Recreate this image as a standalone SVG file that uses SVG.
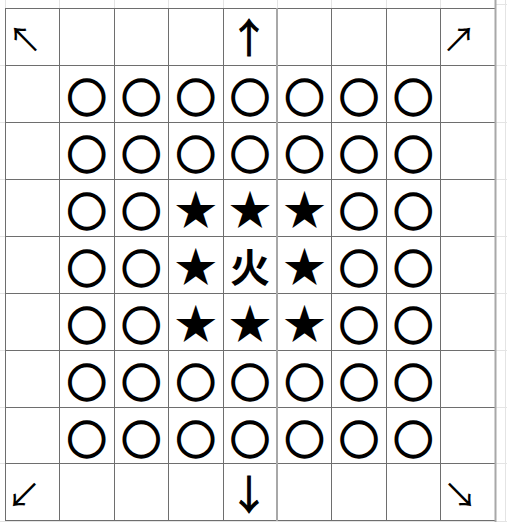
<svg xmlns="http://www.w3.org/2000/svg" width="507" height="522" viewBox="0 0 507 522">
<style>
.faint{stroke:#e4e4e4;stroke-width:1}
.g{stroke:#6e6e6e;stroke-width:1}
.gl{stroke:#a8a8a8;stroke-width:2}
.t{font-family:"Noto Sans CJK JP","Noto Sans CJK SC",sans-serif;font-size:42px;text-anchor:middle;fill:#000}
.c{font-family:"Noto Sans CJK JP","Noto Sans CJK SC",sans-serif;font-size:39px;text-anchor:middle;fill:#000;stroke:#000;stroke-width:2.4}
.v{font-family:"Noto Sans CJK JP","Noto Sans CJK SC",sans-serif;font-size:40px;text-anchor:middle;fill:#000;stroke:#000;stroke-width:1}
.f{font-family:"Noto Sans CJK JP","Noto Sans CJK SC",sans-serif;font-size:40px;font-weight:bold;text-anchor:middle;fill:#000}
.a{font-family:"Noto Sans CJK JP","Noto Sans CJK SC",sans-serif;font-size:34px;fill:#000}
</style>
<rect width="507" height="522" fill="#fff"/>
<g id="gridlines">
<g class="faint">
<path d="M5.5 0V522M59.5 0V522M114.5 0V522M168.5 0V522M223.5 0V522M277.5 0V522M331.5 0V522M386.5 0V522M440.5 0V522M505.5 0V522"/>
<path d="M495 4.5H507M0 65.5H507M0 122.5H507M0 179.5H507M0 236.5H507M0 293.5H507M0 350.5H507M0 407.5H507M0 463.5H507M0 521.5H507"/>
</g>
<g class="g">
<path d="M5.5 8V521M59.5 8V521M114.5 8V521M168.5 8V521M223.5 8V521M331.5 8V521M386.5 8V521M440.5 8V521"/>
<path d="M5 8.5H495M5 65.5H495M5 122.5H495M5 179.5H495M5 236.5H495M5 293.5H495M5 350.5H495M5 407.5H495M5 463.5H495M5 520.5H495"/>
</g>
<g class="gl">
<path d="M277 8V521M495.5 0V522"/>
</g>
</g>
<g id="arrows">
<text id="nw" class="a" x="8" y="52">↖</text>
<text id="up" class="v" x="249" y="53">↑</text>
<text id="ne" class="a" x="442" y="52">↗</text>
<text id="sw" class="a" x="7" y="508">↙</text>
<text id="down" class="v" x="249" y="509">↓</text>
<text id="se" class="a" x="443" y="508">↘</text>
</g>
<g id="circles" class="c">
<text x="86.7" y="112">○</text><text x="141.3" y="112">○</text><text x="195.7" y="112">○</text><text x="250" y="112">○</text><text x="304.5" y="112">○</text><text x="358.9" y="112">○</text><text x="413.3" y="112">○</text>
<text x="86.7" y="169">○</text><text x="141.3" y="169">○</text><text x="195.7" y="169">○</text><text x="250" y="169">○</text><text x="304.5" y="169">○</text><text x="358.9" y="169">○</text><text x="413.3" y="169">○</text>
<text x="86.7" y="226">○</text><text x="141.3" y="226">○</text><text x="358.9" y="226">○</text><text x="413.3" y="226">○</text>
<text x="86.7" y="283">○</text><text x="141.3" y="283">○</text><text x="358.9" y="283">○</text><text x="413.3" y="283">○</text>
<text x="86.7" y="340">○</text><text x="141.3" y="340">○</text><text x="358.9" y="340">○</text><text x="413.3" y="340">○</text>
<text x="86.7" y="397">○</text><text x="141.3" y="397">○</text><text x="195.7" y="397">○</text><text x="250" y="397">○</text><text x="304.5" y="397">○</text><text x="358.9" y="397">○</text><text x="413.3" y="397">○</text>
<text x="86.7" y="454">○</text><text x="141.3" y="454">○</text><text x="195.7" y="454">○</text><text x="250" y="454">○</text><text x="304.5" y="454">○</text><text x="358.9" y="454">○</text><text x="413.3" y="454">○</text>
</g>
<g id="stars" class="t">
<text x="195.7" y="225">★</text><text x="250" y="225">★</text><text x="304.5" y="225">★</text>
<text x="195.7" y="282">★</text><text x="304.5" y="282">★</text>
<text x="195.7" y="339">★</text><text x="250" y="339">★</text><text x="304.5" y="339">★</text>
</g>
<g id="center">
<text class="f" x="250" y="282">火</text>
</g>
</svg>
